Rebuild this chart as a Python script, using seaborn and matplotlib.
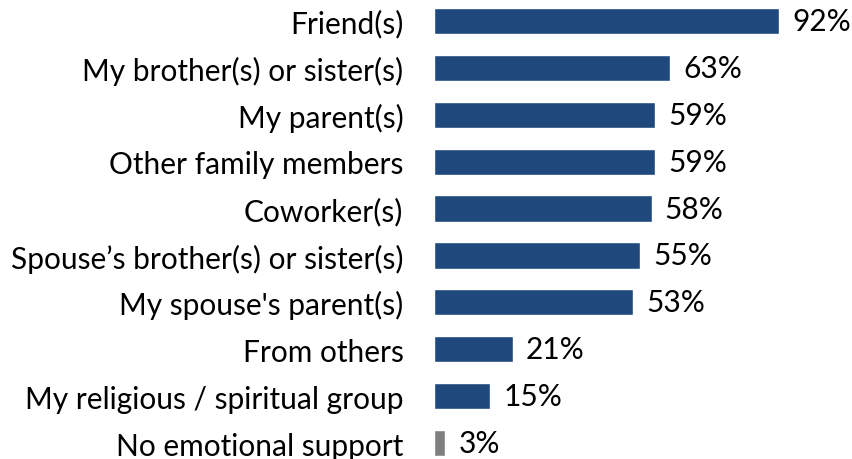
import matplotlib.pyplot as plt
import seaborn as sns
import pandas as pd

# donnees
categories = ["Friend(s)", "My brother(s) or sister(s)", "My parent(s)",
              "Other family members", "Coworker(s)", "Spouse\u2019s brother(s) or sister(s)",
              "My spouse's parent(s)", "From others", "My religious / spiritual group",
              "No emotional support"]
valeurs = [92, 63, 59, 59, 58, 55, 53, 21, 15, 3]
couleurs = ["#1F497D"] * 9 + ["#7F7F7F"]

df = pd.DataFrame({"cat": categories, "val": valeurs})

sns.set_style("white")
plt.rcParams['font.family'] = ['Lato', 'DejaVu Sans']
plt.rcParams['text.color'] = 'black'
plt.rcParams['ytick.color'] = 'black'

fig = plt.figure(figsize=(8.52, 4.6), dpi=100)
ax = fig.add_axes([434 / 852, 0, 412.5 / 852, 1])

sns.barplot(data=df, x="val", y="cat", hue="cat", palette=couleurs, legend=False,
            width=0.56, saturation=1, ax=ax, orient="h")

ax.set_xlim(0, 110)
ax.set_ylim(9.34, -0.469)
ax.set_xlabel("")
ax.set_ylabel("")
ax.set_xticks([])
ax.tick_params(axis="y", length=0, pad=22, labelsize=21.5, labelcolor="black")
for s in ax.spines.values():
    s.set_visible(False)

# etiquettes de valeurs
for i, v in enumerate(valeurs):
    ax.annotate(f"{v}%", (v, i), xytext=(9.5, 0), textcoords="offset points",
                va="center", ha="left", fontsize=21.5, color="black")

fig.savefig("out.png", dpi=100)
